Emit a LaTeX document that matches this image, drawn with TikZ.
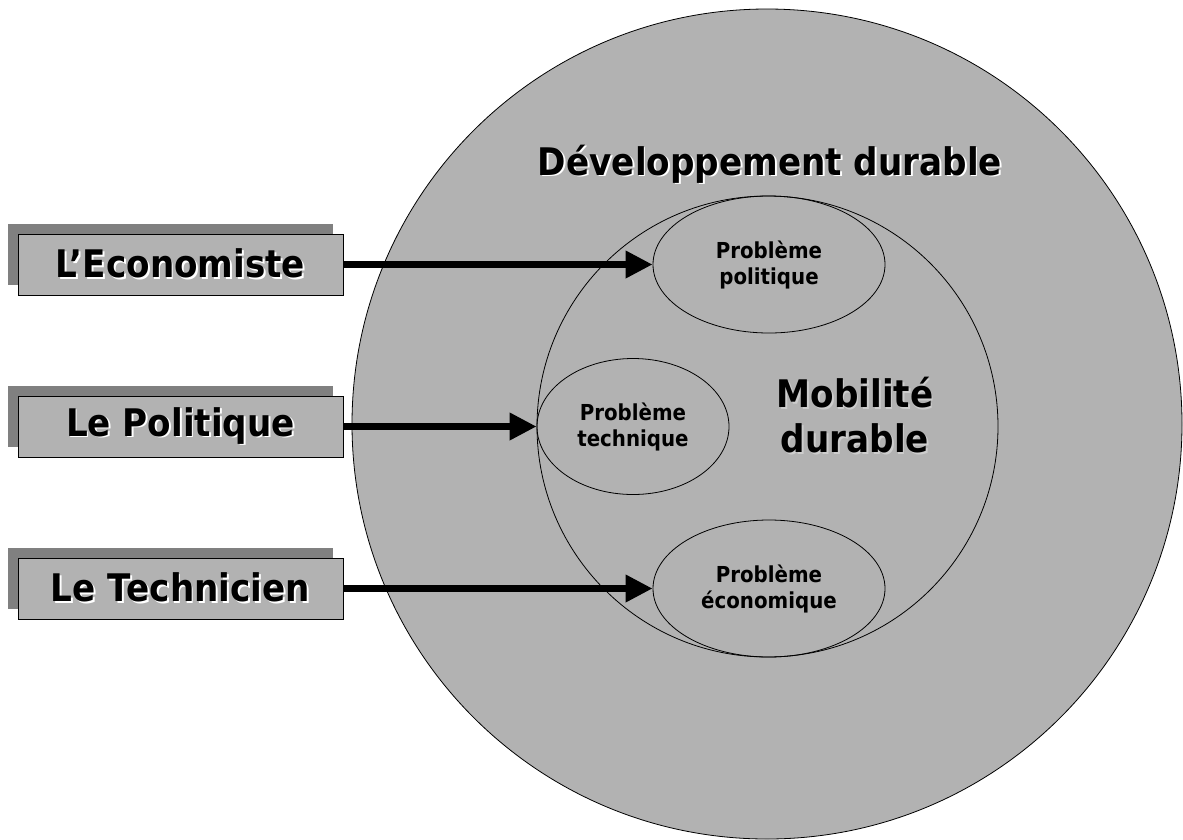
\documentclass[tikz,border=0pt]{standalone}
\usepackage{fontspec}
\setmainfont{DejaVu Sans}[FakeStretch=0.9]
\usetikzlibrary{arrows.meta,shapes.geometric}
\definecolor{fillgray}{RGB}{178,178,178}
\definecolor{shadowgray}{RGB}{128,128,128}
\definecolor{softshadow}{RGB}{205,205,205}
\newcommand\shadowed[2][white]{\rlap{\kern1.8pt\raisebox{-1.8pt}{\color{#1}#2}}#2}
\tikzset{
  bigfont/.style={font=\fontsize{38}{45}\selectfont\bfseries},
  smallfont/.style={font=\fontsize{22}{26}\selectfont\bfseries},
  backbox/.style={rectangle, fill=shadowgray, minimum width=325pt, minimum height=61pt, inner sep=0pt},
  frontbox/.style={rectangle, draw=black, line width=0.9pt, fill=fillgray, minimum width=325pt, minimum height=61pt, inner sep=0pt, bigfont},
  problem/.style={ellipse, draw=black, line width=0.8pt, inner sep=0pt, smallfont, align=center},
  arr/.style={line width=7pt, -{Triangle[length=27pt,width=26pt]}}
}
\begin{document}
\begin{tikzpicture}[x=1pt,y=-1pt]
\useasboundingbox (0,0) rectangle (1183,839);
% big circle
\node[circle, draw=black, line width=0.8pt, fill=fillgray, minimum size=830pt, inner sep=0pt] (dd) at (767,424) {};
\node[bigfont, anchor=base] (ddt) at (770,175) {\shadowed{Développement durable}};
% inner circle
\node[circle, draw=black, line width=0.8pt, minimum size=461pt, inner sep=0pt] (md) at (767.5,426.5) {};
\node[bigfont, align=center] (mdt) at (855,416) {\shadowed[softshadow]{Mobilité}\\\shadowed[softshadow]{durable}};
% problems
\node[problem, minimum width=232pt, minimum height=137pt] (pp) at (769,264.5) {Problème\\politique};
\node[problem, minimum width=192pt, minimum height=136pt] (pt) at (633,426.5) {Problème\\technique};
\node[problem, minimum width=232pt, minimum height=137pt] (pe) at (769,588.5) {Problème\\économique};
% actor boxes
\node[backbox] (ecos) at (170.5,254.5) {};
\node[frontbox] (eco) at (180.5,264.5) {\shadowed{L’Economiste}};
\node[backbox] (pols) at (170.5,416.5) {};
\node[frontbox] (pol) at (180.5,426.5) {\shadowed{Le Politique}};
\node[backbox] (tecs) at (170.5,578.5) {};
\node[frontbox] (tec) at (180.5,588.5) {\shadowed{Le Technicien}};
% arrows
\draw[arr] (eco.east) -- (pp.west);
\draw[arr] (pol.east) -- (pt.west);
\draw[arr] (tec.east) -- (pe.west);
\end{tikzpicture}
\end{document}
